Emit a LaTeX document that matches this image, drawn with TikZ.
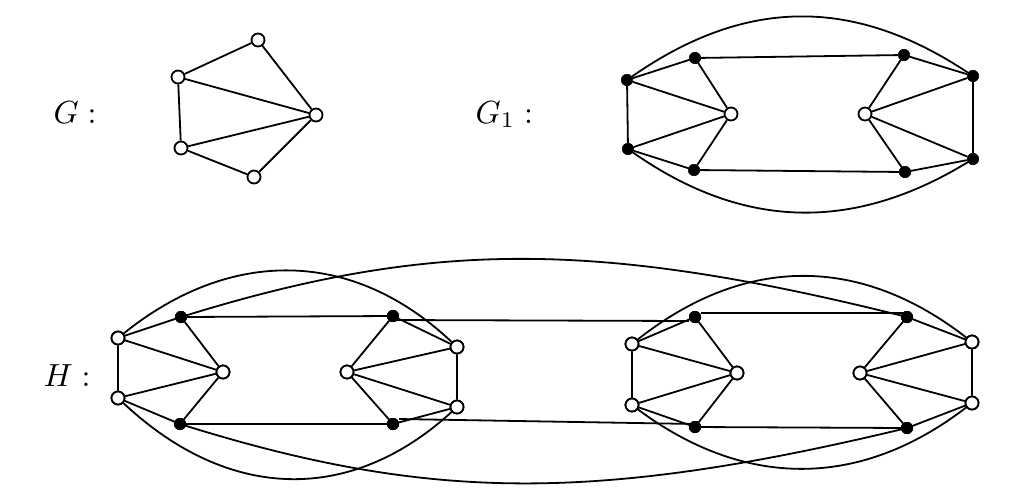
\documentclass[tikz,border=0pt]{standalone}
\begin{document}
\begin{tikzpicture}[x=1pt,y=-1pt,
  wv/.style={circle,draw,fill=white,inner sep=0pt,minimum size=13pt,line width=1.8pt},
  bv/.style={circle,draw,fill=black,inner sep=0pt,minimum size=11.5pt,line width=0.6pt},
  ed/.style={line width=1.8pt},
  lab/.style={inner sep=0pt,anchor=base west,scale=3.2}]
\useasboundingbox (0,0) rectangle (1011,496);
% labels
\node[lab] (lG) at (53,123) {$G:$};
\node[lab] (lG1) at (475,123) {$G_1:$};
\node[lab] (lH) at (43,386) {$H:$};
% ---------- G ----------
\node[wv] (g1) at (258,40) {};
\node[wv] (g2) at (178,77) {};
\node[wv] (g3) at (316,115) {};
\node[wv] (g4) at (181,148) {};
\node[wv] (g5) at (254,177) {};
\draw[ed] (g2)--(g1) (g1)--(g3) (g2)--(g3) (g2)--(g4) (g4)--(g3) (g4)--(g5) (g5)--(g3);
% ---------- G1 ----------
\node[bv] (a1) at (627,80) {};
\node[bv] (a2) at (628,149) {};
\node[bv] (a3) at (695,58) {};
\node[bv] (a4) at (694,170) {};
\node[wv] (a5) at (731,114) {};
\node[wv] (a6) at (865,114) {};
\node[bv] (a7) at (904,55) {};
\node[bv] (a8) at (905,172) {};
\node[bv] (a9) at (973,76) {};
\node[bv] (a10) at (973,159) {};
\draw[ed] (a1)--(a2) (a1)--(a3) (a1)--(a5) (a2)--(a5) (a2)--(a4) (a3)--(a5) (a4)--(a5)
  (a3)--(a7) (a4)--(a8)
  (a6)--(a7) (a6)--(a9) (a6)--(a10) (a6)--(a8) (a7)--(a9) (a8)--(a10) (a9)--(a10);
\draw[ed] (a1) .. controls (746,-3) and (854,-3) .. (a9);
\draw[ed] (a2) .. controls (745,231) and (855,231) .. (a10);
% ---------- H ----------
% left block
\node[wv] (h1) at (118,338) {};
\node[wv] (h2) at (118,398) {};
\node[bv] (h3) at (181,317) {};
\node[bv] (h4) at (180,424) {};
\node[wv] (h5) at (223,372) {};
\node[wv] (h6) at (347,372) {};
\node[bv] (h7) at (393,316) {};
\node[bv] (h8) at (393,424) {};
\node[wv] (h9) at (457,347) {};
\node[wv] (h10) at (457,407) {};
% right block
\node[wv] (k1) at (632,344) {};
\node[wv] (k2) at (632,405) {};
\node[bv] (k3) at (695,317) {};
\node[bv] (k4) at (695,427) {};
\node[wv] (k5) at (737,373) {};
\node[wv] (k6) at (860,373) {};
\node[bv] (k7) at (907,317) {};
\node[bv] (k8) at (907,428) {};
\node[wv] (k9) at (972,342) {};
\node[wv] (k10) at (972,403) {};
\draw[ed] (h1)--(h2) (h1)--(h3) (h1)--(h5) (h2)--(h5) (h2)--(h4) (h3)--(h5) (h4)--(h5)
  (h3)--(h7) (h4)--(h8)
  (h6)--(h7) (h6)--(h9) (h6)--(h10) (h6)--(h8) (h7)--(h9) (h8)--(h10) (h9)--(h10);
\draw[ed] (k1)--(k2) (k1)--(k3) (k1)--(k5) (k2)--(k5) (k2)--(k4) (k3)--(k5) (k4)--(k5)
  (k6)--(k7) (k6)--(k9) (k6)--(k10) (k6)--(k8) (k7)--(k9) (k8)--(k10) (k9)--(k10);
\draw[ed] ([yshift=-4pt]h7.center)--([yshift=-4pt]k3.west);
\draw[ed] ([yshift=5pt]h8.east)--([yshift=3pt]k4.center);
\draw[ed] ([yshift=4pt]k3.east)--([yshift=4pt]k7.center);
\draw[ed] (k4)--(k8);
% lenses
\draw[ed] (h1) .. controls (230,248) and (352,248) .. (h9);
\draw[ed] (h2) .. controls (230,503) and (352,503) .. (h10);
\draw[ed] (k1) .. controls (745,255) and (860,255) .. (k9);
\draw[ed] (k2) .. controls (745,489) and (860,489) .. (k10);
% long curves
\draw[ed] (h3) .. controls (431,240) and (597,240) .. (k7);
\draw[ed] (h4) .. controls (431,502) and (597,502) .. (k8);
% redraw nodes on top
\foreach \n in {h1,h2,h5,h6,h9,h10,k1,k2,k5,k6,k9,k10}{\node[wv] at (\n) {};}
\foreach \n in {h3,h4,h7,h8,k3,k4,k7,k8}{\node[bv] at (\n) {};}
\end{tikzpicture}
\end{document}
